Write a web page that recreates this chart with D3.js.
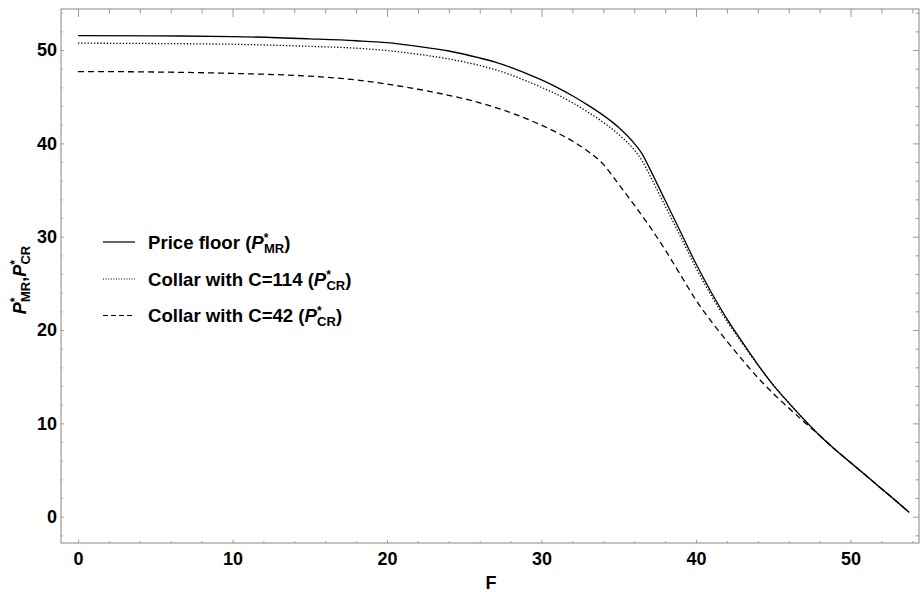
<!DOCTYPE html>
<html>
<head>
<meta charset="utf-8">
<script src="https://cdn.jsdelivr.net/npm/d3@7"></script>
<style>
  html, body { margin: 0; padding: 0; background: #fff; }
  svg { display: block; font-family: "Liberation Sans", Arial, sans-serif; }
</style>
</head>
<body>
<svg id="chart" width="920" height="592"></svg>
<script>
// ---- Data ----
const F_floor = [0,5,10,15,18,20,22,24,26,27,28,29,30,31,32,33,34,35,36,36.5,37,38,39,40,41,42,43,44,45,46,47,48,49,50,51,52,53,53.8];
const P_floor = [51.55,51.52,51.45,51.2,51.0,50.8,50.4,49.9,49.15,48.7,48.15,47.5,46.8,46.0,45.1,44.1,43.0,41.7,40.0,38.9,37.3,33.9,30.5,27.1,24.0,21.2,18.7,16.3,14.1,12.2,10.4,8.7,7.2,5.8,4.4,3.0,1.6,0.45];

const F_c114 = F_floor;
const P_c114 = [50.74,50.7,50.62,50.4,50.2,49.95,49.55,49.05,48.35,47.9,47.35,46.7,46.0,45.25,44.35,43.35,42.25,40.95,39.3,38.15,36.6,33.3,30.0,26.65,23.65,20.95,18.55,16.25,14.1,12.2,10.4,8.7,7.2,5.8,4.4,3.0,1.6,0.45];

const F_c42 = [0,5,10,15,18,20,22,24,26,28,29,30,31,32,33,34,34.6,35,36,37,38,39,40,41,42,43,44,45,46,47,48,49,50,51,52,53,53.8];
const P_c42 = [47.7,47.65,47.5,47.2,46.8,46.35,45.8,45.15,44.35,43.3,42.65,41.95,41.15,40.25,39.15,37.75,36.5,35.6,33.4,31.1,28.6,25.9,23.2,20.9,18.8,16.8,14.9,13.2,11.65,10.15,8.7,7.2,5.8,4.4,3.0,1.6,0.45];

const xMajor = [0,10,20,30,40,50];
const yMajor = [0,10,20,30,40,50];
const xMinor = d3.range(0, 55, 2).filter(v => v % 10 !== 0);
const yMinor = d3.range(-2, 55, 2).filter(v => v % 10 !== 0);

const seriesNames = ["Price floor (", "Collar with C=114 (", "Collar with C=42 ("];
const seriesSubs = ["MR", "CR", "CR"];
const seriesDash = [null, "1.3,1.9", "6,4"];

// ---- Layout ----
const svg = d3.select("#chart");
const L = 61, R = 919, T = 9, B = 543;
const x = d3.scaleLinear().domain([-1.1, 54.43]).range([L, R]);
const y = d3.scaleLinear().domain([-2.82, 54.4]).range([B, T]);
const frameColor = "#9a9a9a";

// Frame
svg.append("rect").attr("x", L).attr("y", T).attr("width", R - L).attr("height", B - T)
  .attr("fill", "none").attr("stroke", frameColor).attr("stroke-width", 1.2);

function styleAxis(g) {
  g.select(".domain").remove();
  g.selectAll(".tick line").attr("stroke", frameColor).attr("stroke-width", 1);
  g.selectAll("text").attr("font-size", 18).attr("font-weight", "bold").attr("fill", "#000")
    .attr("font-family", "'Liberation Sans', Arial, sans-serif");
}

// Bottom axis (labels + short ticks)
svg.append("g").attr("transform", `translate(0,${B})`)
  .call(d3.axisBottom(x).tickValues(xMajor).tickSize(-3).tickPadding(9).tickFormat(d3.format("d")))
  .call(styleAxis);
svg.append("g").attr("transform", `translate(0,${B})`)
  .call(d3.axisBottom(x).tickValues(xMinor).tickSize(-1.8).tickFormat(""))
  .call(styleAxis);
// Top axis (longer ticks, no labels)
svg.append("g").attr("transform", `translate(0,${T})`)
  .call(d3.axisTop(x).tickValues(xMajor).tickSize(-8).tickFormat(""))
  .call(styleAxis);
svg.append("g").attr("transform", `translate(0,${T})`)
  .call(d3.axisTop(x).tickValues(xMinor).tickSize(-4.5).tickFormat(""))
  .call(styleAxis);
// Left axis
svg.append("g").attr("transform", `translate(${L},0)`)
  .call(d3.axisLeft(y).tickValues(yMajor).tickSize(-3).tickPadding(4).tickFormat(d3.format("d")))
  .call(styleAxis);
svg.append("g").attr("transform", `translate(${L},0)`)
  .call(d3.axisLeft(y).tickValues(yMinor).tickSize(-1.8).tickFormat(""))
  .call(styleAxis);
// Right axis
svg.append("g").attr("transform", `translate(${R},0)`)
  .call(d3.axisRight(y).tickValues(yMajor).tickSize(-6).tickFormat(""))
  .call(styleAxis);
svg.append("g").attr("transform", `translate(${R},0)`)
  .call(d3.axisRight(y).tickValues(yMinor).tickSize(-3.5).tickFormat(""))
  .call(styleAxis);

// Curves
const line = d3.line().x(d => x(d[0])).y(d => y(d[1])).curve(d3.curveMonotoneX);
const series = [
  d3.zip(F_floor, P_floor),
  d3.zip(F_c114, P_c114),
  d3.zip(F_c42, P_c42)
];
svg.append("clipPath").attr("id", "clip").append("rect")
  .attr("x", L).attr("y", T).attr("width", R - L).attr("height", B - T);
series.forEach((s, i) => {
  svg.append("path").datum(s).attr("d", line)
    .attr("fill", "none").attr("stroke", "#000").attr("stroke-width", 1.3)
    .attr("stroke-dasharray", seriesDash[i]).attr("clip-path", "url(#clip)");
});

// Legend
const legY = [242, 279, 315.5];
seriesNames.forEach((name, i) => {
  const cy = legY[i];
  svg.append("line").attr("x1", 103).attr("x2", 135).attr("y1", cy).attr("y2", cy)
    .attr("stroke", "#000").attr("stroke-width", 1.2)
    .attr("stroke-dasharray", i === 1 ? "1,1.6" : (i === 2 ? "5,3" : null));
  const t = svg.append("text").attr("x", 148).attr("y", cy + 6.5)
    .attr("font-size", 18.6).attr("font-weight", "bold").attr("fill", "#000");
  t.append("tspan").text(name);
  t.append("tspan").attr("font-style", "italic").text("P");
  t.append("tspan").attr("font-size", 12).attr("dy", -7).text("*");
  t.append("tspan").attr("font-size", 13).attr("dx", -4.5).attr("dy", 11).text(seriesSubs[i]);
  t.append("tspan").attr("dy", -4).text(")");
});

// Axis titles
svg.append("text").attr("x", 491).attr("y", 589).attr("text-anchor", "middle")
  .attr("font-size", 18).attr("font-weight", "bold").text("F");

const yl = svg.append("text").attr("transform", "translate(26,280) rotate(-90)")
  .attr("text-anchor", "middle").attr("font-size", 18).attr("font-weight", "bold");
yl.append("tspan").attr("font-style", "italic").text("P");
yl.append("tspan").attr("font-size", 12).attr("dy", -7).text("*");
yl.append("tspan").attr("font-size", 13).attr("dx", -4.5).attr("dy", 11).text("MR");
yl.append("tspan").attr("dy", -4).text(",");
yl.append("tspan").attr("font-style", "italic").text("P");
yl.append("tspan").attr("font-size", 12).attr("dy", -7).text("*");
yl.append("tspan").attr("font-size", 13).attr("dx", -4.5).attr("dy", 11).text("CR");
</script>
</body>
</html>
